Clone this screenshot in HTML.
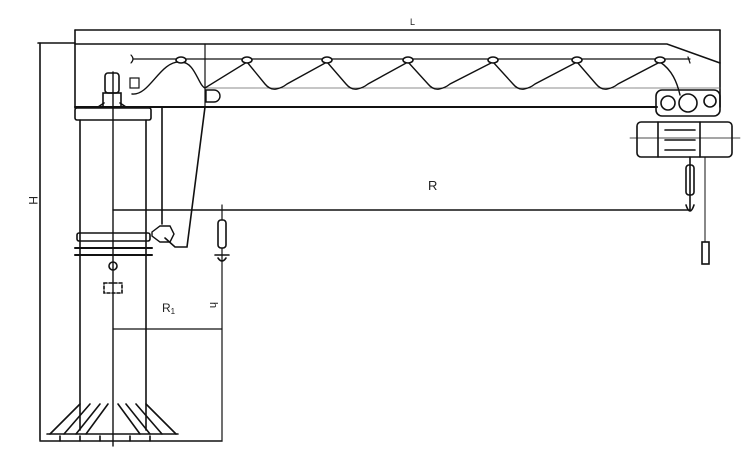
<!DOCTYPE html>
<html><head><meta charset="utf-8"><style>
html,body{margin:0;padding:0;background:#fff;}
svg{display:block;}
text{font-family:"Liberation Sans",sans-serif;fill:#222;}
</style></head><body>
<svg width="741" height="456" viewBox="0 0 741 456" xmlns="http://www.w3.org/2000/svg">
<g stroke="#111" stroke-width="1.6" fill="none" stroke-linecap="round">
<line x1="75" y1="30" x2="720" y2="30"/>
<line x1="75" y1="30" x2="75" y2="108"/>
<line x1="720" y1="30" x2="720" y2="107"/>
<line x1="38" y1="43" x2="75" y2="43"/>
<line x1="40" y1="43" x2="40" y2="440"/>
<polyline points="75,44 667,44 720,63"/>
<line x1="75" y1="107" x2="657" y2="107" stroke-width="2"/>
<line x1="205" y1="44" x2="205" y2="107" stroke-width="1.2"/>
<line x1="205" y1="88" x2="720" y2="88" stroke-width="0.8" stroke="#666"/>
<line x1="133" y1="59" x2="690" y2="59" stroke-width="1.2"/>
<path d="M131,55 q4,4 0,8" stroke-width="1.2"/>
<path d="M688,57 l2,6" stroke-width="1.2"/>
<path d="M132,94 C150,96 160,60 181,62 C195,62 198,85 205,88 L247,62 L265,84 Q270,90 276,89 Q282,88 287,84 L327,62 L346,84 Q351,90 357,89 Q363,88 368,84 L408,62 L428,84 Q433,90 439,89 Q445,88 450,84 L493,62 L513,84 Q518,90 524,89 Q530,88 535,84 L577,62 L596,84 Q601,90 607,89 Q613,88 618,84 L660,62 C672,70 677,82 680,95" stroke-width="1.4"/>
<g fill="#fff">
<ellipse cx="181" cy="60" rx="5" ry="3"/><ellipse cx="247" cy="60" rx="5" ry="3"/><ellipse cx="327" cy="60" rx="5" ry="3"/><ellipse cx="408" cy="60" rx="5" ry="3"/><ellipse cx="493" cy="60" rx="5" ry="3"/><ellipse cx="577" cy="60" rx="5" ry="3"/><ellipse cx="660" cy="60" rx="5" ry="3"/>
</g>
<rect x="130" y="78" width="9" height="10" stroke-width="1.2"/>
<rect x="105" y="73" width="14" height="20" rx="3"/>
<rect x="103" y="93" width="18" height="14"/>
<path d="M98,107 l6,-4 M126,107 l-6,-4"/>
<path d="M206,90 h8 a6,6 0 0 1 0,12 h-8 z" stroke-width="1.4"/>
<rect x="75" y="108" width="76" height="12" rx="2"/>
<line x1="80" y1="120" x2="80" y2="430"/>
<line x1="146" y1="120" x2="146" y2="430"/>
<line x1="113" y1="72" x2="113" y2="446" stroke-width="1.4"/>
<line x1="162" y1="108" x2="162" y2="224"/>
<polyline points="205,107 187,247 175,247 165,238"/>
<path d="M152,232 l8,-6 h10 l4,8 l-4,8 h-10 l-8,-6 z" stroke-width="1.4"/>
<rect x="77" y="233" width="73" height="8" rx="2"/>
<line x1="75" y1="248" x2="152" y2="248" stroke-width="2"/>
<line x1="75" y1="255" x2="152" y2="255" stroke-width="2"/>
<circle cx="113" cy="266" r="4"/>
<rect x="104" y="283" width="18" height="10" stroke-dasharray="3,2"/>
<line x1="113" y1="210" x2="690" y2="210" stroke-width="1.4"/>
<line x1="222" y1="205" x2="222" y2="440" stroke-width="1.2"/>
<rect x="218" y="220" width="8" height="28" rx="3" fill="#fff"/>
<path d="M215,255 h14 M218,258 q4,6 8,0" stroke-width="1.6"/>
<line x1="113" y1="329" x2="222" y2="329" stroke-width="1.2"/>
<line x1="40" y1="441" x2="222" y2="441"/>
<line x1="47" y1="434" x2="178" y2="434"/>
<path d="M80,404 l-30,30 M90,404 l-26,30 M100,404 l-24,30 M108,404 l-22,30"/>
<path d="M146,404 l30,30 M136,404 l26,30 M126,404 l24,30 M118,404 l22,30"/>
<line x1="60" y1="441" x2="60" y2="436"/><line x1="80" y1="441" x2="80" y2="436"/><line x1="100" y1="441" x2="100" y2="436"/><line x1="130" y1="441" x2="130" y2="436"/><line x1="150" y1="441" x2="150" y2="436"/>
<rect x="656" y="90" width="64" height="26" rx="6"/>
<circle cx="668" cy="103" r="7"/><circle cx="688" cy="103" r="9"/><circle cx="710" cy="101" r="6"/>
<rect x="637" y="122" width="95" height="35" rx="4"/>
<line x1="658" y1="122" x2="658" y2="157"/>
<line x1="700" y1="122" x2="700" y2="157"/>
<line x1="665" y1="130" x2="695" y2="130"/><line x1="665" y1="140" x2="695" y2="140"/><line x1="665" y1="150" x2="695" y2="150"/>
<line x1="630" y1="138" x2="740" y2="138" stroke-width="0.8"/>
<line x1="690" y1="157" x2="690" y2="210"/>
<rect x="686" y="165" width="8" height="30" rx="3"/>
<path d="M686,205 q4,12 8,0"/>
<line x1="705" y1="157" x2="705" y2="242" stroke-width="1"/>
<rect x="702" y="242" width="7" height="22"/>
</g>
<text x="410" y="25" font-size="9">L</text>
<text x="428" y="190" font-size="13">R</text>
<text x="162" y="312" font-size="12">R<tspan font-size="8" dy="2">1</tspan></text>
<text x="0" y="0" font-size="11" transform="translate(210,302) rotate(90)">h</text>
<text x="0" y="0" font-size="12" transform="translate(29,196) rotate(90)">H</text>
</svg>
</body></html>
